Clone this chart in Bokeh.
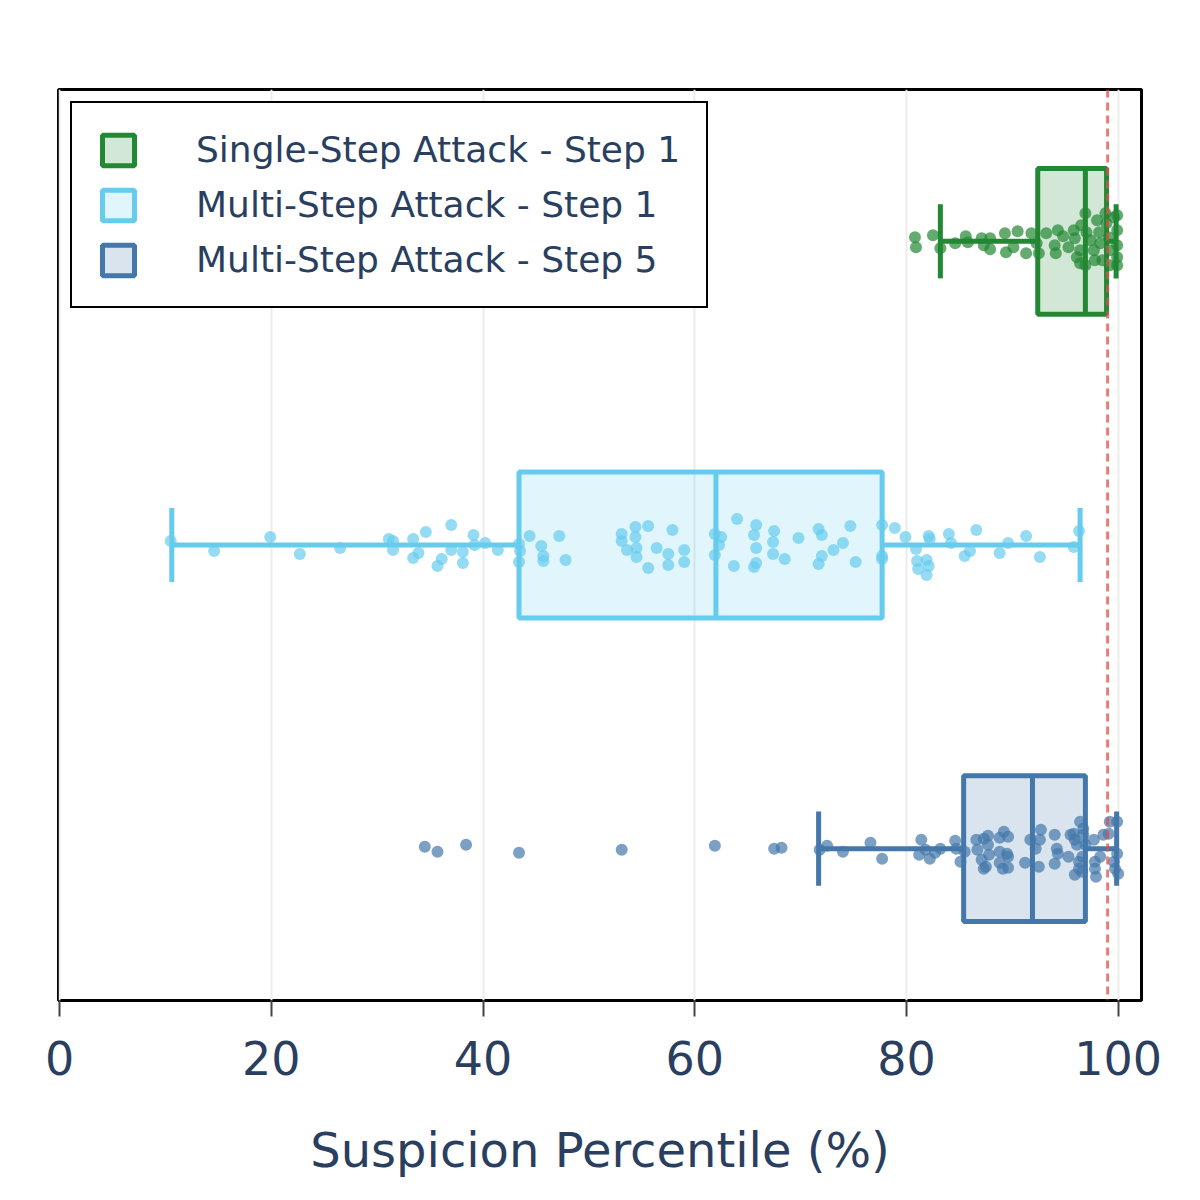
from bokeh.plotting import figure
from bokeh.models import FixedTicker, Span, Legend, LegendItem
from bokeh.embed import file_html
from bokeh.resources import INLINE

# groups, top to bottom
groups = ['Single-Step Attack - Step 1', 'Multi-Step Attack - Step 1', 'Multi-Step Attack - Step 5']
ypos = [2, 1, 0]
colors = ['#228833', '#66CCEE', '#4477AA']

# box statistics
lower = [83.2, 10.6, 71.7]
q1 = [92.4, 43.4, 85.4]
median = [96.9, 62.0, 91.9]
q3 = [98.9, 77.7, 96.9]
upper = [99.8, 96.4, 99.85]

threshold = 99.0

# strip points: value and vertical jitter (pixels, down positive)
single_vals = [80.8, 80.9, 82.5, 83.2, 84.6, 85.6, 85.8, 87.1, 87.3, 87.9, 87.9, 89.3, 89.4,
               90.1, 90.5, 91.3, 91.8, 92.3, 92.5, 93.2, 94.0, 94.1, 94.3, 94.8, 95.3, 95.8,
               95.9, 96.1, 96.4, 96.5, 96.9, 97.0, 96.9, 97.4, 97.7, 98.0, 98.2, 98.3, 98.5,
               98.8, 98.9, 99.1, 99.2, 99.2, 99.6, 99.9, 99.9, 99.9, 99.9, 99.9, 97.8, 96.4]
single_jit = [-4, 6, -6, 7, 2, -5, 1, -3, 4, -3, 8, -8, 11,
              6, -10, 12, -8, 2, 12, -8, 4, 12, -11, -5, 6, -11,
              -3, 16, 9, -16, -28, -9, 24, -1, 9, -21, -9, 2, 19,
              -28, -18, -4, 9, 24, -24, -26, -11, 4, 16, 24, 19, 22]

multi1_vals = [10.5, 14.6, 19.9, 22.7, 26.5, 31.1, 31.5, 31.5, 33.4, 33.9, 33.4, 34.6, 36.1,
               35.7, 37.0, 37.0, 38.1, 38.1, 39.1, 39.2, 40.2, 41.4, 43.4, 43.5, 43.4, 44.4,
               45.5, 45.7, 45.7, 47.2, 47.8, 53.1, 53.1, 53.6, 54.4, 54.4, 54.5, 54.5, 55.6,
               55.6, 56.4, 57.5, 57.5, 57.9, 59.0, 59.0, 61.9, 62.5, 62.3, 61.9, 64.0, 63.7,
               65.8, 65.6, 65.8, 65.8, 65.6, 67.5, 67.4, 67.4, 68.5, 69.8, 71.7, 72.0, 72.0,
               71.7, 73.1, 74.0, 74.7, 75.2, 77.7, 77.7, 77.7, 78.9, 79.9, 80.9, 81.0, 81.1,
               81.9, 82.1, 81.9, 82.1, 82.2, 84.0, 84.2, 85.5, 86.0, 86.6, 88.8, 89.6, 91.3,
               92.6, 95.8, 96.3]
multi1_jit = [-4, 6, -8, 9, 3, -6, -4, 5, -6, 8, 13, -13, 14,
              21, -20, 5, 7, 18, -10, 0, -2, 5, -1, 6, 17, -9,
              1, 11, 16, -9, 15, -11, -4, 5, -18, -8, 3, 12, -19,
              23, 3, 9, 20, -15, 5, 17, -11, -8, 0, 10, -26, 21,
              -20, -10, 3, 18, 22, -14, -3, 9, 14, -7, -16, -10, 11,
              19, 5, -2, -19, 17, -20, 11, 14, -17, -8, 4, 16, 24,
              15, 21, 30, -9, -6, -11, -2, 11, 6, -15, 8, -2, -9,
              12, 2, -14]

multi5_vals = [34.5, 35.7, 38.4, 43.4, 53.1, 61.9, 67.5, 68.2,
               71.8, 72.5, 74.0, 76.6, 77.7, 81.4, 81.2, 81.8, 82.2, 82.7, 83.2, 84.6, 84.7,
               85.1, 85.5, 86.6, 86.7, 87.1, 87.3, 87.5, 87.3, 87.7, 87.7, 87.8, 88.8, 89.2,
               89.6, 88.8, 89.5, 89.6, 88.8, 89.1, 89.6, 91.2, 91.7, 92.2, 92.5, 92.7, 92.6,
               94.0, 94.2, 94.3, 94.0, 95.3, 95.5, 95.8, 95.9, 96.1, 96.3, 95.9, 96.4, 96.7,
               96.7, 96.9, 96.6, 96.3, 96.6, 97.7, 97.8, 97.8, 97.9, 98.3, 98.6, 99.1, 99.2,
               99.6, 99.7, 99.9, 99.9, 100.0]
multi5_jit = [-2, 3, -4, 4, 1, -3, 0, -1,
              1, -3, 3, -6, 10, -9, 6, 1, 10, 4, 0, -8, 0,
              13, 3, -9, 1, 11, 20, 18, -10, -13, -4, 6, -11, -17,
              -12, 3, 5, 8, 14, 20, 19, 14, -9, 0, 18, -19, -9,
              -14, 0, 5, 15, 8, -14, -15, -9, -4, 13, 26, -27, -20,
              -14, -4, 8, 20, 23, -9, 13, 20, 28, 8, -14, -15, -27,
              13, 20, -27, 5, 25]

point_vals = [single_vals, multi1_vals, multi5_vals]
point_jit = [single_jit, multi1_jit, multi5_jit]

PX = 303.5  # pixels per category unit
font = 'DejaVu Sans'
text_color = '#2a3f5f'

p = figure(width=1184, height=1184, x_range=(-0.1, 102.2), y_range=(-0.5, 2.5),
           output_backend='svg', toolbar_location=None,
           min_border_left=58, min_border_right=43, min_border_top=89, min_border_bottom=184)
p.background_fill_color = 'white'
p.border_fill_color = 'white'
p.outline_line_color = 'black'
p.outline_line_width = 3
p.outline_line_alpha = 1

p.yaxis.visible = False
p.ygrid.visible = False
p.xgrid.ticker = FixedTicker(ticks=[0, 20, 40, 60, 80, 100])
p.xgrid.grid_line_color = '#ececec'
p.xgrid.grid_line_width = 2

ax = p.xaxis[0]
ax.ticker = FixedTicker(ticks=[0, 20, 40, 60, 80, 100])
ax.axis_line_color = None
ax.major_tick_in = 0
ax.major_tick_out = 16
ax.major_tick_line_color = '#444444'
ax.major_tick_line_width = 2
ax.minor_tick_line_color = None
ax.major_label_text_font = font
ax.major_label_text_font_size = '46px'
ax.major_label_text_color = text_color
ax.major_label_standoff = 24
ax.axis_label = 'Suspicion Percentile (%)'
ax.axis_label_text_font = font
ax.axis_label_text_font_size = '48px'
ax.axis_label_text_font_style = 'normal'
ax.axis_label_text_color = text_color
ax.axis_label_standoff = 44

box_h = 0.48
cap_h = 0.122
items = []
for i in range(3):
    y = ypos[i]
    c = colors[i]
    p.segment(x0=[lower[i], q3[i]], y0=[y, y], x1=[q1[i], upper[i]], y1=[y, y],
              line_color=c, line_width=5)
    p.segment(x0=[lower[i], upper[i]], y0=[y - cap_h, y - cap_h],
              x1=[lower[i], upper[i]], y1=[y + cap_h, y + cap_h],
              line_color=c, line_width=5)
    box = p.hbar(y=[y], left=[q1[i]], right=[q3[i]], height=box_h,
                 fill_color=c, fill_alpha=0.2, line_color=c, line_width=5)
    p.segment(x0=[median[i]], y0=[y - box_h / 2], x1=[median[i]], y1=[y + box_h / 2],
              line_color=c, line_width=5)
    items.append(LegendItem(label=groups[i], renderers=[box]))

for i in range(3):
    ys = [ypos[i] - d / PX for d in point_jit[i]]
    p.scatter(point_vals[i], ys, size=12, fill_color=colors[i], fill_alpha=0.7,
              line_color=None)

p.add_layout(Span(location=threshold, dimension='height', line_color='#d9534f',
                  line_alpha=0.75, line_width=3, line_dash='8 5'))

legend = Legend(items=items, location='top_left')
legend.margin = 12
legend.padding = 26
legend.spacing = 14
legend.glyph_width = 40
legend.glyph_height = 38
legend.label_height = 40
legend.label_standoff = 58
legend.label_text_font = font
legend.label_text_font_size = '36px'
legend.label_text_color = text_color
legend.border_line_color = 'black'
legend.border_line_width = 2.5
legend.border_line_alpha = 1
legend.background_fill_color = 'white'
legend.background_fill_alpha = 1
p.add_layout(legend, 'center')

open('out.html', 'w').write(file_html(p, INLINE))
